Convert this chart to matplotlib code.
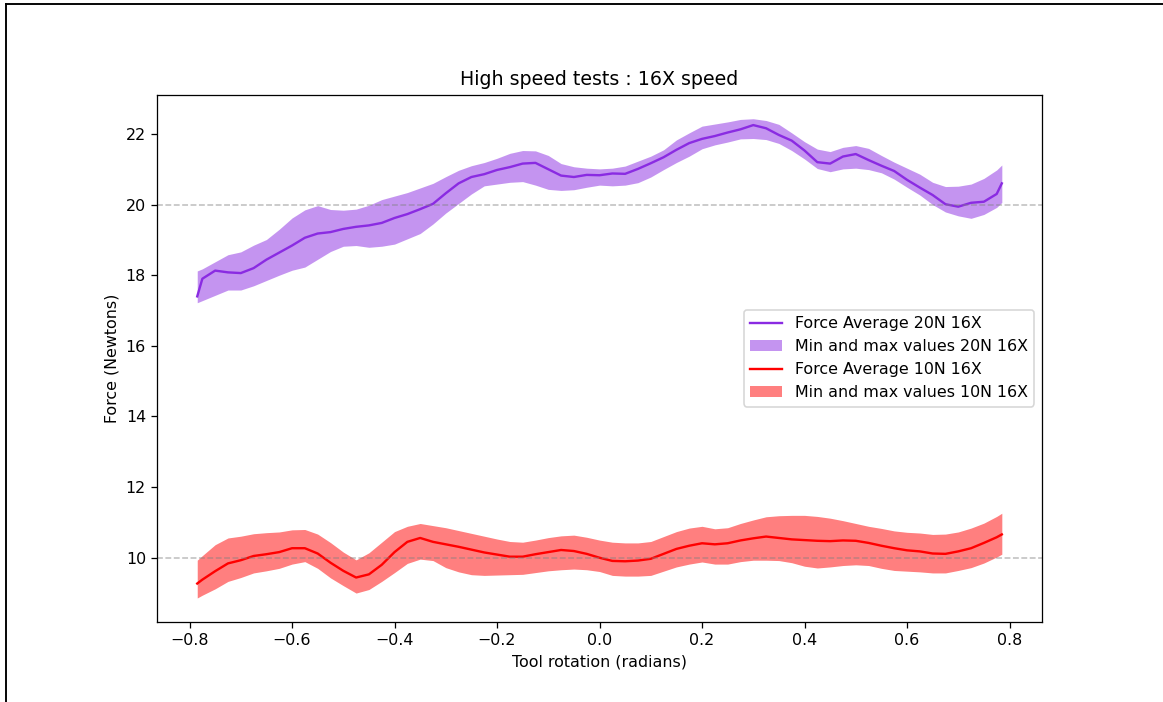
import numpy as np
import matplotlib
matplotlib.use("Agg")
import matplotlib.pyplot as plt
from matplotlib.lines import Line2D

# Tool rotation samples (radians)
rotation = [-0.785, -0.775, -0.750, -0.725, -0.700, -0.675, -0.650, -0.625, -0.600, -0.575,
            -0.550, -0.525, -0.500, -0.475, -0.450, -0.425, -0.400, -0.375, -0.350, -0.325,
            -0.300, -0.275, -0.250, -0.225, -0.200, -0.175, -0.150, -0.125, -0.100, -0.075,
            -0.050, -0.025, 0.000, 0.025, 0.050, 0.075, 0.100, 0.125, 0.150, 0.175,
            0.200, 0.225, 0.250, 0.275, 0.300, 0.325, 0.350, 0.375, 0.400, 0.425,
            0.450, 0.475, 0.500, 0.525, 0.550, 0.575, 0.600, 0.625, 0.650, 0.675,
            0.700, 0.725, 0.750, 0.775, 0.785]

# 20N target at 16X speed
avg_20n = [17.40, 17.90, 18.13, 18.08, 18.06, 18.20, 18.44, 18.64, 18.84, 19.06,
           19.18, 19.22, 19.31, 19.37, 19.41, 19.48, 19.62, 19.73, 19.87, 20.02,
           20.32, 20.60, 20.78, 20.86, 20.98, 21.06, 21.16, 21.18, 21.00, 20.82,
           20.78, 20.84, 20.83, 20.88, 20.87, 21.01, 21.17, 21.34, 21.55, 21.74,
           21.86, 21.94, 22.04, 22.13, 22.25, 22.16, 21.97, 21.81, 21.53, 21.20,
           21.16, 21.36, 21.43, 21.26, 21.10, 20.95, 20.70, 20.48, 20.27, 20.01,
           19.94, 20.05, 20.08, 20.30, 20.60]
max_20n = [18.12, 18.18, 18.38, 18.58, 18.66, 18.85, 19.01, 19.30, 19.62, 19.85,
           19.97, 19.86, 19.84, 19.87, 19.98, 20.14, 20.24, 20.34, 20.47, 20.60,
           20.79, 20.97, 21.10, 21.19, 21.31, 21.45, 21.53, 21.52, 21.39, 21.16,
           21.07, 21.03, 21.01, 21.03, 21.09, 21.23, 21.37, 21.55, 21.83, 22.03,
           22.22, 22.28, 22.34, 22.41, 22.43, 22.38, 22.27, 22.03, 21.78, 21.57,
           21.50, 21.62, 21.67, 21.59, 21.39, 21.20, 21.03, 20.86, 20.63, 20.51,
           20.52, 20.58, 20.74, 20.98, 21.12]
min_20n = [17.22, 17.28, 17.43, 17.58, 17.58, 17.70, 17.85, 18.00, 18.14, 18.23,
           18.45, 18.67, 18.82, 18.84, 18.79, 18.82, 18.88, 19.03, 19.18, 19.45,
           19.76, 20.03, 20.30, 20.53, 20.58, 20.63, 20.65, 20.55, 20.43, 20.40,
           20.42, 20.49, 20.55, 20.53, 20.55, 20.62, 20.78, 20.99, 21.19, 21.37,
           21.58, 21.69, 21.77, 21.86, 21.87, 21.84, 21.73, 21.53, 21.29, 21.02,
           20.93, 21.01, 21.03, 20.99, 20.90, 20.72, 20.49, 20.27, 20.00, 19.79,
           19.68, 19.61, 19.72, 19.92, 20.06]

# 10N target at 16X speed
avg_10n = [9.27, 9.38, 9.62, 9.84, 9.93, 10.05, 10.10, 10.16, 10.27, 10.27,
           10.12, 9.86, 9.63, 9.44, 9.53, 9.80, 10.16, 10.45, 10.56, 10.45,
           10.38, 10.31, 10.23, 10.15, 10.09, 10.03, 10.03, 10.10, 10.16, 10.22,
           10.19, 10.11, 10.00, 9.91, 9.90, 9.92, 9.97, 10.11, 10.25, 10.34,
           10.41, 10.38, 10.41, 10.49, 10.55, 10.60, 10.56, 10.52, 10.50, 10.48,
           10.47, 10.49, 10.48, 10.42, 10.34, 10.27, 10.21, 10.18, 10.12, 10.11,
           10.18, 10.27, 10.42, 10.58, 10.66]
max_10n = [9.93, 10.06, 10.37, 10.56, 10.61, 10.68, 10.71, 10.73, 10.79, 10.80,
           10.67, 10.43, 10.16, 9.94, 10.14, 10.44, 10.74, 10.89, 10.97, 10.91,
           10.85, 10.77, 10.69, 10.61, 10.53, 10.46, 10.44, 10.50, 10.57, 10.62,
           10.64, 10.58, 10.50, 10.44, 10.42, 10.42, 10.46, 10.60, 10.74, 10.84,
           10.89, 10.82, 10.85, 10.97, 11.07, 11.16, 11.19, 11.20, 11.20, 11.17,
           11.12, 11.05, 10.97, 10.89, 10.83, 10.76, 10.72, 10.70, 10.66, 10.67,
           10.73, 10.84, 10.98, 11.17, 11.26]
min_10n = [8.86, 8.94, 9.12, 9.33, 9.44, 9.57, 9.63, 9.70, 9.82, 9.89,
           9.70, 9.43, 9.21, 9.00, 9.10, 9.33, 9.58, 9.84, 9.96, 9.92,
           9.72, 9.60, 9.52, 9.50, 9.51, 9.52, 9.53, 9.58, 9.63, 9.66,
           9.68, 9.66, 9.61, 9.50, 9.48, 9.48, 9.50, 9.62, 9.74, 9.82,
           9.88, 9.82, 9.82, 9.89, 9.93, 9.93, 9.92, 9.86, 9.76, 9.71,
           9.74, 9.78, 9.80, 9.78, 9.70, 9.64, 9.62, 9.60, 9.57, 9.57,
           9.64, 9.72, 9.85, 10.02, 10.10]

targets = [20, 10]

DPI = 114
fig = plt.figure(figsize=(1163 / DPI, 702 / DPI), dpi=DPI)
ax = fig.add_axes([0.135, 0.114, 0.761, 0.751])

x = np.array(rotation)
ax.plot(x, avg_20n, color="blueviolet", label="Force Average 20N 16X")
ax.fill_between(x, min_20n, max_20n, color="blueviolet", alpha=0.5,
                linewidth=0, label="Min and max values 20N 16X")
ax.plot(x, avg_10n, color="red", label="Force Average 10N 16X")
ax.fill_between(x, min_10n, max_10n, color="red", alpha=0.5,
                linewidth=0, label="Min and max values 10N 16X")

for t in targets:
    ax.axhline(t, color="gray", alpha=0.5, linestyle="--", linewidth=1)

ax.set_title("High speed tests : 16X speed")
ax.set_xlabel("Tool rotation (radians)")
ax.set_ylabel("Force (Newtons)")
ax.legend(loc="center right")

# page frame along the left and top edges
fig.add_artist(Line2D([6 / 1163, 6 / 1163], [0, 1 - 4 / 702],
                      transform=fig.transFigure, color="black", linewidth=1.2))
fig.add_artist(Line2D([6 / 1163, 1], [1 - 4 / 702, 1 - 4 / 702],
                      transform=fig.transFigure, color="black", linewidth=1.2))

fig.savefig("out.png", dpi=DPI)
